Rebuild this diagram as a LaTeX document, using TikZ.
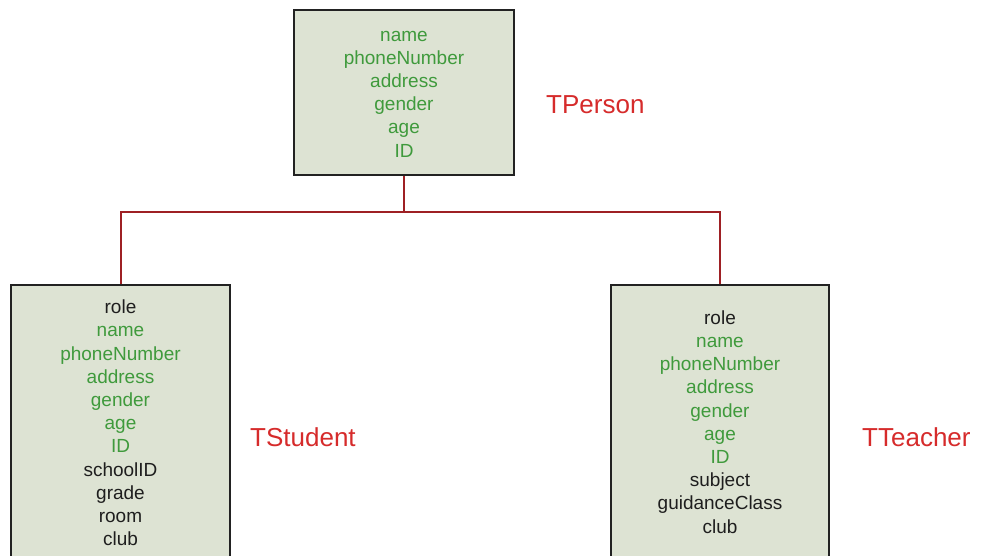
\documentclass[tikz,border=0pt]{standalone}
\usepackage{fontspec}
\setmainfont{Liberation Sans}
\definecolor{boxfill}{HTML}{DDE3D3}
\definecolor{fieldgreen}{HTML}{3F9A3C}
\definecolor{labelred}{HTML}{D62B2B}
\definecolor{linkred}{HTML}{9E2024}
\definecolor{boxline}{HTML}{222222}
\definecolor{fieldblack}{HTML}{1E1E1E}
\newcommand{\gf}[1]{\textcolor{fieldgreen}{#1}}
\begin{document}
\begin{tikzpicture}[x=1pt,y=-1pt,
  classbox/.style={draw=boxline,line width=2.2pt,fill=boxfill,rectangle,inner sep=0pt},
  fields/.style={align=center,text=fieldblack,font=\fontsize{19}{23.2}\selectfont,inner sep=0pt},
  classname/.style={text=labelred,font=\fontsize{26}{30}\selectfont,anchor=west,inner sep=0pt},
  link/.style={draw=linkred,line width=2pt}]
\useasboundingbox (0,0) rectangle (989,555);
\clip (0,0) rectangle (989,555);
\fill[white] (0,0) rectangle (989,555);
% boxes
\node[classbox,minimum width=220pt,minimum height=165pt] (person) at (404,92.5) {};
\node[classbox,minimum width=219pt,minimum height=300pt,anchor=north] (student) at (120.5,284) {};
\node[classbox,minimum width=218pt,minimum height=300pt,anchor=north] (teacher) at (720,284) {};
% fields
\node[fields] (pf) at (404,94) {\gf{name}\\\gf{phoneNumber}\\\gf{address}\\\gf{gender}\\\gf{age}\\\gf{ID}};
\node[fields] (sf) at (120.5,423) {role\\\gf{name}\\\gf{phoneNumber}\\\gf{address}\\\gf{gender}\\\gf{age}\\\gf{ID}\\schoolID\\grade\\room\\club};
\node[fields] (tf) at (720,422) {role\\\gf{name}\\\gf{phoneNumber}\\\gf{address}\\\gf{gender}\\\gf{age}\\\gf{ID}\\subject\\guidanceClass\\club};
% class names
\node[classname] (pl) at (546,105) {TPerson};
\node[classname] (sl) at (250,437) {TStudent};
\node[classname] (tl) at (862,437) {TTeacher};
% connectors
\coordinate (j) at (404,212);
\draw[link] (person.south) -- (j);
\draw[link] (student.north) |- (j) -| (teacher.north);
\end{tikzpicture}
\end{document}
